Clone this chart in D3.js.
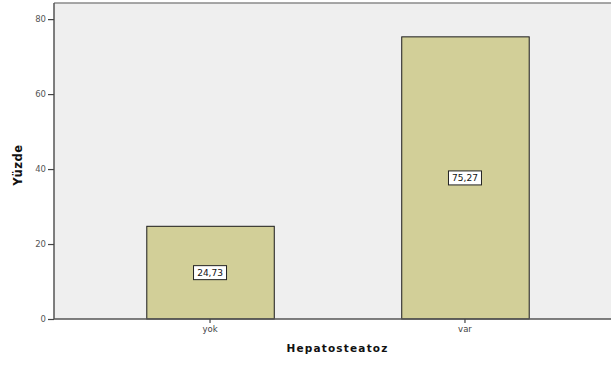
<!DOCTYPE html>
<html>
<head>
<meta charset="utf-8">
<script src="https://cdn.jsdelivr.net/npm/d3@7"></script>
<style>
  html, body { margin: 0; padding: 0; background: #ffffff; overflow: hidden; }
  svg { display: block; }
</style>
</head>
<body>
<script>
// Percentage of patients with / without hepatosteatosis
const categories = ["yok", "var"];
const percentages = [24.73, 75.27];
const valueLabels = ["24,73", "75,27"];
const yTicks = [0, 20, 40, 60, 80];

const W = 611, H = 365;
const plot = { left: 54, top: 3, right: 621, bottom: 319 };

const svg = d3.select("body").append("svg")
  .attr("width", W).attr("height", H);

const x = d3.scaleBand()
  .domain(categories)
  .range([plot.left, plot.right])
  .paddingInner(0.5)
  .paddingOuter(0.362);

const y = d3.scaleLinear()
  .domain([0, 84.3])
  .range([plot.bottom, plot.top]);

// plot background
svg.append("rect")
  .attr("x", plot.left).attr("y", plot.top)
  .attr("width", plot.right - plot.left)
  .attr("height", plot.bottom - plot.top)
  .attr("fill", "#efefef");

// top frame line
svg.append("line")
  .attr("x1", plot.left).attr("x2", plot.right)
  .attr("y1", plot.top).attr("y2", plot.top)
  .attr("stroke", "#8a8a8a").attr("stroke-width", 1.5);

// bars
svg.append("g").selectAll("rect")
  .data(categories)
  .join("rect")
  .attr("x", d => x(d) + 0.5)
  .attr("y", (d, i) => y(percentages[i]))
  .attr("width", x.bandwidth())
  .attr("height", (d, i) => y(0) - y(percentages[i]))
  .attr("fill", "#d2cf98")
  .attr("stroke", "#1a1a1a")
  .attr("stroke-width", 1);

// value labels in boxes
const lbl = svg.append("g").selectAll("g")
  .data(categories)
  .join("g")
  .attr("transform", (d, i) =>
    `translate(${x(d) + x.bandwidth() / 2},${(y(percentages[i]) + y(0)) / 2})`);

lbl.append("rect")
  .attr("x", -16.5).attr("y", -7)
  .attr("width", 33).attr("height", 14)
  .attr("fill", "#ffffff")
  .attr("stroke", "#222").attr("stroke-width", 1);

lbl.append("text")
  .attr("text-anchor", "middle")
  .attr("dy", "0.35em")
  .attr("font-family", "DejaVu Sans, sans-serif")
  .attr("font-size", 9)
  .attr("fill", "#111")
  .text((d, i) => valueLabels[i]);

// y axis
const yAxis = svg.append("g")
  .attr("transform", `translate(${plot.left},0)`)
  .call(d3.axisLeft(y).tickValues(yTicks).tickSize(6).tickPadding(2).tickFormat(d3.format("d")));
yAxis.select(".domain").attr("stroke", "#555").attr("stroke-width", 1.5)
  .attr("d", `M0,${plot.bottom}V${plot.top}`);
yAxis.selectAll(".tick line").attr("stroke", "#444").attr("stroke-width", 1.2);
yAxis.selectAll(".tick text")
  .attr("font-family", "DejaVu Sans, sans-serif")
  .attr("font-size", 8.5)
  .attr("fill", "#555");

// x axis
const xAxis = svg.append("g")
  .attr("transform", `translate(0,${plot.bottom})`)
  .call(d3.axisBottom(x).tickSize(4).tickPadding(3));
xAxis.select(".domain").attr("stroke", "#555").attr("stroke-width", 1.5)
  .attr("d", `M${plot.left},0H${plot.right}`);
xAxis.selectAll(".tick line").attr("stroke", "#444").attr("stroke-width", 1.2);
xAxis.selectAll(".tick text")
  .attr("font-family", "DejaVu Sans, sans-serif")
  .attr("font-size", 8.5)
  .attr("fill", "#444");

// axis titles
svg.append("text")
  .attr("x", (plot.left + plot.right) / 2)
  .attr("y", 352)
  .attr("text-anchor", "middle")
  .attr("font-family", "DejaVu Sans, sans-serif")
  .attr("font-weight", "bold")
  .attr("font-size", 10.5)
  .attr("letter-spacing", 1.2)
  .attr("fill", "#111")
  .text("Hepatosteatoz");

svg.append("text")
  .attr("transform", "translate(22,165) rotate(-90)")
  .attr("text-anchor", "middle")
  .attr("font-family", "DejaVu Sans, sans-serif")
  .attr("font-weight", "bold")
  .attr("font-size", 11.5)
  .attr("letter-spacing", 0.6)
  .attr("fill", "#111")
  .text("Yüzde");
</script>
</body>
</html>
